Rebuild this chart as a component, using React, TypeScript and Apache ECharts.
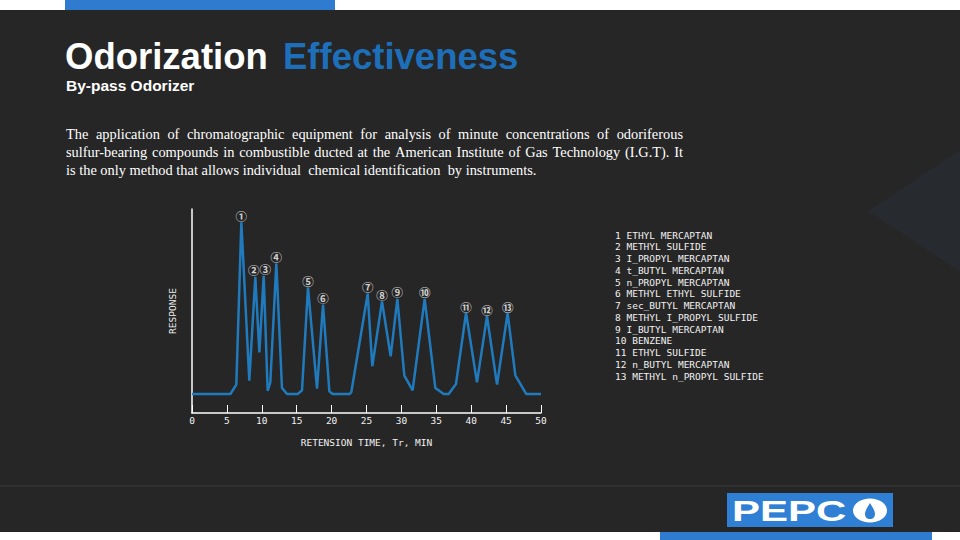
import React, { useEffect, useRef } from "react";
import * as echarts from "echarts";

// ---- data ----
const traceTimes = [0, 5.5, 6.35, 7.07, 8.21, 9.07, 9.65, 10.27, 10.84, 11.22, 12.08, 12.89, 13.61, 15.14, 15.76, 16.62, 17.91, 18.77, 19.68, 20.15, 22.59, 22.83, 25.17, 25.83, 27.22, 28.46, 29.42, 30.42, 31.61, 33.33, 34.86, 36.06, 36.77, 37.82, 39.26, 40.83, 42.26, 43.7, 45.22, 46.32, 47.9, 50];
const traceResp = [9.3, 9.3, 13.9, 93.5, 15.8, 66.7, 29.7, 67.3, 10.9, 15.0, 73.2, 12.3, 9.3, 9.3, 11.1, 61.6, 11.9, 53.1, 10.6, 9.3, 9.3, 10.3, 58.5, 22.9, 54.7, 27.8, 55.9, 18.3, 11.1, 55.9, 12.3, 9.3, 9.3, 14.2, 49.0, 15.0, 47.4, 13.9, 49.0, 18.5, 9.3, 9.3];
const peakTimes = [7.07, 9.07, 10.27, 12.08, 16.62, 18.77, 25.17, 27.22, 29.42, 33.33, 39.26, 42.26, 45.22];
const peakResp = [93.5, 66.7, 67.3, 73.2, 61.6, 53.1, 58.5, 54.7, 55.9, 55.9, 49.0, 47.4, 49.0];
const peakLabels = ["①", "②", "③", "④", "⑤", "⑥", "⑦", "⑧", "⑨", "⑩", "⑪", "⑫", "⑬"];
const compoundNames = [
  "1 ETHYL MERCAPTAN",
  "2 METHYL SULFIDE",
  "3 I_PROPYL MERCAPTAN",
  "4 t_BUTYL MERCAPTAN",
  "5 n_PROPYL MERCAPTAN",
  "6 METHYL ETHYL SULFIDE",
  "7 sec_BUTYL MERCAPTAN",
  "8 METHYL I_PROPYL SULFIDE",
  "9 I_BUTYL MERCAPTAN",
  "10 BENZENE",
  "11 ETHYL SULFIDE",
  "12 n_BUTYL MERCAPTAN",
  "13 METHYL n_PROPYL SULFIDE",
];
const xTickMin = 0;
const xTickMax = 50;
const xTickStep = 5;

const titleMain = "Odorization";
const titleAccent = "Effectiveness";
const subtitle = "By-pass Odorizer";
const logoText = "PEPC";
const paragraph = [
  "The application of chromatographic equipment for analysis of minute concentrations of odoriferous",
  "sulfur-bearing compounds in combustible ducted at the American Institute of Gas Technology (I.G.T). It",
  "is the only method that allows individual  chemical identification  by instruments.",
];

const MONO = "'DejaVu Sans Mono', monospace";
const SERIF = "'Liberation Serif', 'Times New Roman', serif";
const SANS = "'Liberation Sans', Arial, sans-serif";

function paragraphElements(): any[] {
  const fs = 14.4;
  const left = 66;
  const right = 683;
  const mids = [133.5, 151.5, 169.5];
  const cv = document.createElement("canvas");
  const ctx = cv.getContext("2d")!;
  ctx.font = `${fs}px 'Liberation Serif'`;
  const spaceW = ctx.measureText(" ").width;
  const els: any[] = [];
  const mk = (w: string, x: number, y: number) => ({
    type: "text",
    x,
    y,
    silent: true,
    style: { text: w, fill: "#ffffff", font: `${fs}px ${SERIF}`, verticalAlign: "middle", align: "left", lineHeight: 15 },
  });
  paragraph.forEach((line, li) => {
    const justify = li < paragraph.length - 1;
    if (justify) {
      const words = line.split(" ").filter((w) => w.length);
      const widths = words.map((w) => ctx.measureText(w).width);
      const total = widths.reduce((a, b) => a + b, 0);
      const gap = (right - left - total) / (words.length - 1);
      let x = left;
      words.forEach((w, i) => {
        els.push(mk(w, x, mids[li]));
        x += widths[i] + gap;
      });
    } else {
      const toks = line.split(" ");
      let x = left;
      toks.forEach((w) => {
        if (w.length) els.push(mk(w, x, mids[li]));
        x += ctx.measureText(w).width + spaceW;
      });
    }
  });
  return els;
}

export default function App() {
  const ref = useRef<HTMLDivElement>(null);
  useEffect(() => {
    document.body.style.margin = "0";
    if (!ref.current) return;
    echarts.graphic.registerShape(
      "drop",
      echarts.graphic.extendPath("M0 -8 C2 -4 5 -1 5 3 C5 6 3 8 0 8 C-3 8 -5 6 -5 3 C-5 -1 -2 -4 0 -8 Z", {})
    );
    const chart = echarts.init(ref.current, null, { renderer: "svg" });

    const legendEls = compoundNames.map((n, i) => ({
      type: "text",
      x: 615,
      y: 235 + i * 11.75,
      silent: true,
      style: { text: n, fill: "#f2f2f2", font: `9.5px ${MONO}`, verticalAlign: "middle", align: "left", lineHeight: 10 },
    }));

    const labelOffsets: Record<number, number[]> = { 1: [-1.5, 0], 2: [1.5, 0] };

    const option: any = {
      animation: false,
      backgroundColor: "#ffffff",
      grid: { left: 192, right: 419, top: 209, bottom: 127 },
      xAxis: {
        type: "value",
        min: xTickMin,
        max: xTickMax,
        interval: xTickStep,
        name: "RETENSION TIME, Tr, MIN",
        nameLocation: "middle",
        nameGap: 24,
        nameTextStyle: { color: "#f2f2f2", fontFamily: MONO, fontSize: 9.5 },
        axisLine: { show: true, onZero: false, lineStyle: { color: "#ffffff", width: 1.5 } },
        axisTick: { show: true, inside: true, length: 8, lineStyle: { color: "#ffffff", width: 1 } },
        axisLabel: { color: "#f2f2f2", fontFamily: MONO, fontSize: 9.5, margin: 2 },
        splitLine: { show: false },
      },
      yAxis: {
        type: "value",
        min: 0,
        max: 100,
        name: "RESPONSE",
        nameLocation: "middle",
        nameRotate: 90,
        nameGap: 15,
        nameTextStyle: { color: "#f2f2f2", fontFamily: MONO, fontSize: 9.5 },
        axisLine: { show: true, lineStyle: { color: "#ffffff", width: 1.5 } },
        axisTick: { show: false },
        axisLabel: { show: false },
        splitLine: { show: false },
      },
      series: [
        {
          type: "line",
          data: traceTimes.map((t, i) => [t, traceResp[i]]),
          showSymbol: false,
          symbol: "none",
          lineStyle: { color: "#1f7bbd", width: 2.5 },
          z: 3,
          silent: true,
        },
        {
          type: "scatter",
          data: peakTimes.map((t, i) => ({
            value: [t, peakResp[i]],
            label: labelOffsets[i] ? { offset: labelOffsets[i] } : undefined,
          })),
          symbolSize: 0,
          silent: true,
          z: 4,
          label: {
            show: true,
            position: "top",
            distance: 1,
            color: "#ffffff",
            fontFamily: "'Noto Sans CJK JP', sans-serif",
            fontWeight: "bold",
            fontSize: 11.5,
            lineHeight: 11,
            formatter: (p: any) => peakLabels[p.dataIndex],
          },
        },
      ],
      graphic: [
        { type: "rect", z: -10, silent: true, shape: { x: 0, y: 10, width: 960, height: 522 }, style: { fill: "#262626" } },
        { type: "polygon", z: -9, silent: true, shape: { points: [[868, 211], [960, 150], [960, 272]] }, style: { fill: "#272a2e" } },
        { type: "rect", z: -8, silent: true, shape: { x: 65, y: 0, width: 270, height: 10 }, style: { fill: "#2e7bcf" } },
        { type: "rect", z: -8, silent: true, shape: { x: 660, y: 532, width: 272, height: 8 }, style: { fill: "#2e7bcf" } },
        { type: "line", z: -8, silent: true, shape: { x1: 0, y1: 486, x2: 960, y2: 486 }, style: { stroke: "#3d3d3d", lineWidth: 1 } },
        {
          type: "text", x: 65, y: 56, silent: true,
          style: { text: titleMain, fill: "#ffffff", font: `bold 36.5px ${SANS}`, verticalAlign: "middle", align: "left", lineHeight: 28 },
        },
        {
          type: "text", x: 283, y: 56, silent: true,
          style: { text: titleAccent, fill: "#1e6fba", font: `bold 36.5px ${SANS}`, verticalAlign: "middle", align: "left", lineHeight: 28 },
        },
        {
          type: "text", x: 66, y: 85.5, silent: true,
          style: { text: subtitle, fill: "#ffffff", font: `bold 15.5px ${SANS}`, verticalAlign: "middle", align: "left", lineHeight: 13 },
        },
        ...paragraphElements(),
        ...legendEls,
        { type: "rect", z: 5, silent: true, shape: { x: 727, y: 493, width: 166, height: 34 }, style: { fill: "#2f80d5" } },
        {
          type: "text", z: 6, x: 732, y: 511, scaleX: 1.4, silent: true,
          style: { text: logoText, fill: "#ffffff", font: `bold 30px ${SANS}`, verticalAlign: "middle", align: "left" },
        },
        { type: "ellipse", z: 6, silent: true, shape: { cx: 870, cy: 510.5, rx: 17, ry: 12 }, style: { fill: "#ffffff" } },
        { type: "drop", z: 7, x: 870, y: 511, silent: true, style: { fill: "#2f80d5" } },
      ],
    };
    chart.setOption(option);
    return () => chart.dispose();
  }, []);
  return <div ref={ref} style={{ position: "fixed", left: 0, top: 0, width: 960, height: 540 }} />;
}
